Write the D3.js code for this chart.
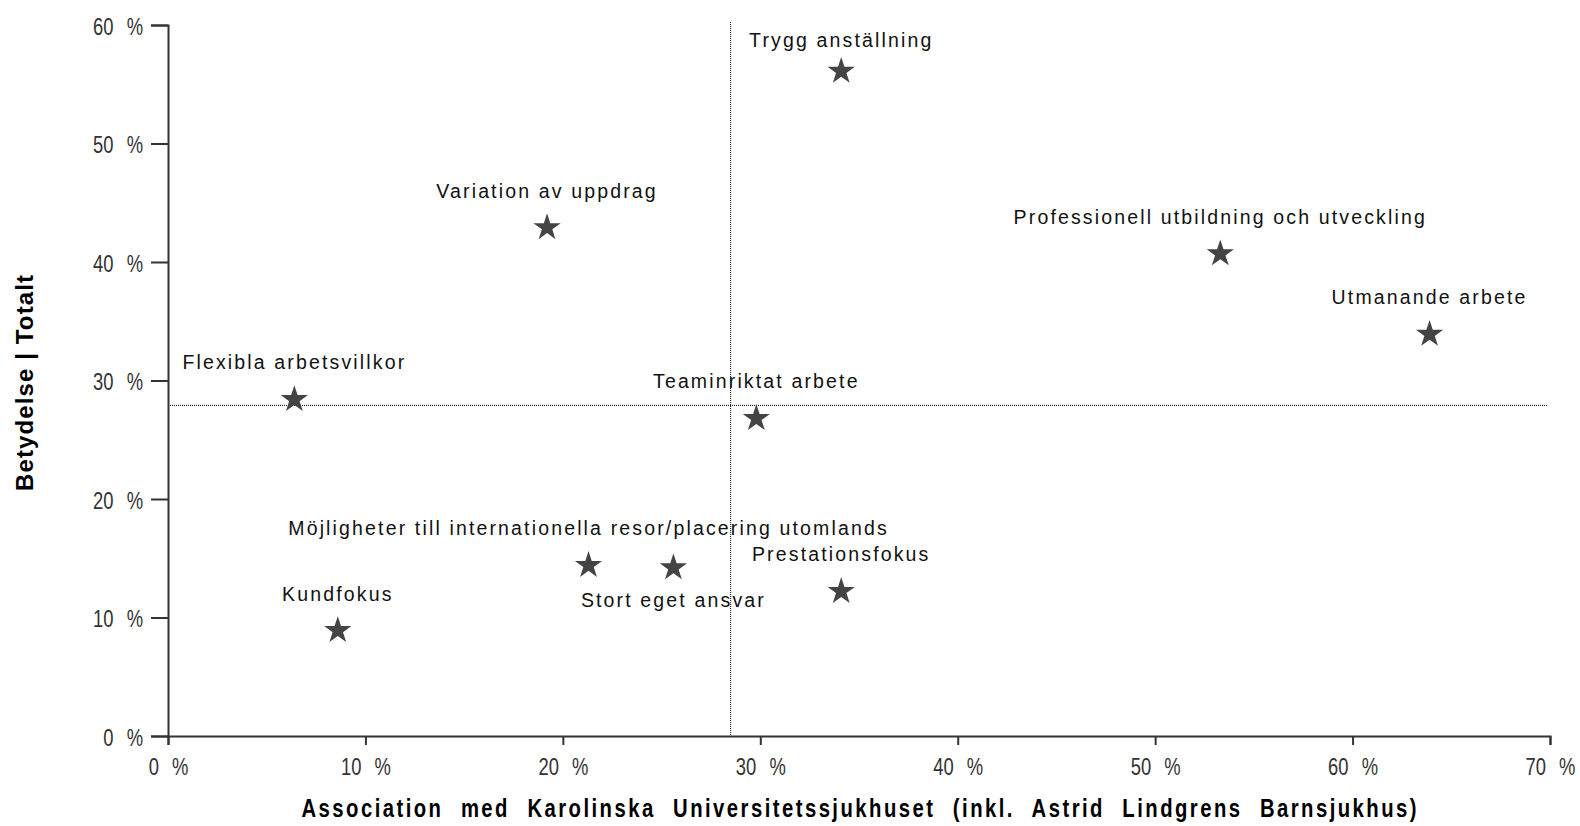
<!DOCTYPE html>
<html>
<head>
<meta charset="utf-8">
<script src="https://cdn.jsdelivr.net/npm/d3@7"></script>
<style>
  html, body { margin: 0; padding: 0; background: #fff; }
  svg { display: block; }
</style>
</head>
<body>
<svg id="chart" width="1580" height="826"></svg>
<script>
// ---- data ----
const categories = [
  "Trygg anställning",
  "Variation av uppdrag",
  "Professionell utbildning och utveckling",
  "Utmanande arbete",
  "Flexibla arbetsvillkor",
  "Teaminriktat arbete",
  "Möjligheter till internationella resor/placering utomlands",
  "Stort eget ansvar",
  "Prestationsfokus",
  "Kundfokus"
];
const association = [34.1, 19.2, 53.3, 63.9, 6.4, 29.8, 21.3, 25.6, 34.1, 8.6];
const importance  = [56.1, 42.9, 40.7, 33.9, 28.4, 26.8, 14.4, 14.2, 12.2, 8.9];
const xTicks = [0, 10, 20, 30, 40, 50, 60, 70];
const yTicks = [0, 10, 20, 30, 40, 50, 60];
const avgAssociation = 28.5;
const avgImportance = 27.9;
const xTitle = "Association med Karolinska Universitetssjukhuset (inkl. Astrid Lindgrens Barnsjukhus)";
const yTitle = "Betydelse | Totalt";

// ---- layout (not data) ----
const labelDy = {"Trygg anställning": -24, "Stort eget ansvar": 39};
const defaultLabelDy = -30;
const squeeze = 0.8;

const svg = d3.select("#chart");
const x = d3.scaleLinear().domain([0, 70]).range([168, 1550]);
const y = d3.scaleLinear().domain([0, 60]).range([736, 25]);

const font = "'Liberation Sans', Arial, sans-serif";

// reference lines
svg.append("line")
  .attr("x1", x(avgAssociation)).attr("x2", x(avgAssociation))
  .attr("y1", 22).attr("y2", y(0))
  .attr("stroke", "#000").attr("stroke-width", 1).attr("stroke-dasharray", "1,1");
svg.append("line")
  .attr("x1", x(0)).attr("x2", 1547)
  .attr("y1", y(avgImportance)).attr("y2", y(avgImportance))
  .attr("stroke", "#000").attr("stroke-width", 1).attr("stroke-dasharray", "1,1");

// axes
const xAxis = d3.axisBottom(x).tickValues(xTicks).tickSize(9).tickSizeOuter(9)
  .tickFormat(d => d + " %");
const yAxis = d3.axisLeft(y).tickValues(yTicks).tickSize(17).tickSizeOuter(17)
  .tickFormat(d => d + " %");

const gx = svg.append("g").attr("transform", `translate(0,${y(0)})`).call(xAxis);
const gy = svg.append("g").attr("transform", `translate(${x(0)},0)`).call(yAxis);

[gx, gy].forEach(g => {
  g.selectAll("path.domain").attr("stroke", "#333").attr("stroke-width", 2);
  g.selectAll(".tick line").attr("stroke", "#333").attr("stroke-width", 2);
  g.selectAll(".tick text")
    .attr("font-family", font).attr("font-size", 23)
    .attr("fill", "#333")
    .style("word-spacing", "10px");
});
gx.selectAll(".tick text")
  .attr("y", 39).attr("dy", 0).attr("x", 0)
  .attr("transform", `scale(${squeeze},1)`);
gy.selectAll(".tick text")
  .attr("x", -25 / squeeze).attr("dy", "0.4em")
  .attr("transform", `scale(${squeeze},1)`);

// points
const pts = categories.map((c, i) => ({name: c, ax: association[i], im: importance[i]}));
const star = d3.symbol().type(d3.symbolStar).size(230);
svg.append("g").selectAll("path").data(pts).join("path")
  .attr("d", star)
  .attr("transform", d => `translate(${x(d.ax)},${y(d.im)})`)
  .attr("fill", "#444");

svg.append("g").selectAll("text").data(pts).join("text")
  .attr("x", d => x(d.ax))
  .attr("y", d => y(d.im) + (labelDy[d.name] !== undefined ? labelDy[d.name] : defaultLabelDy))
  .attr("text-anchor", "middle")
  .attr("font-family", font).attr("font-size", 19.5)
  .style("letter-spacing", "2.15px")
  .attr("fill", "#111")
  .text(d => d.name);

// axis titles
const tSq = 0.78;
svg.append("text")
  .attr("transform", `scale(${tSq},1)`)
  .attr("x", 859 / tSq).attr("y", 817)
  .attr("text-anchor", "middle")
  .attr("font-family", font).attr("font-weight", "bold").attr("font-size", 26)
  .attr("fill", "#000")
  .attr("textLength", 1115 / tSq).attr("lengthAdjust", "spacing")
  .style("word-spacing", "12px")
  .text(xTitle);

svg.append("text")
  .attr("transform", "translate(33,383) rotate(-90)")
  .attr("text-anchor", "middle")
  .attr("font-family", font).attr("font-weight", "bold").attr("font-size", 24)
  .attr("fill", "#000")
  .attr("textLength", 216).attr("lengthAdjust", "spacing")
  .text(yTitle);
</script>
</body>
</html>
